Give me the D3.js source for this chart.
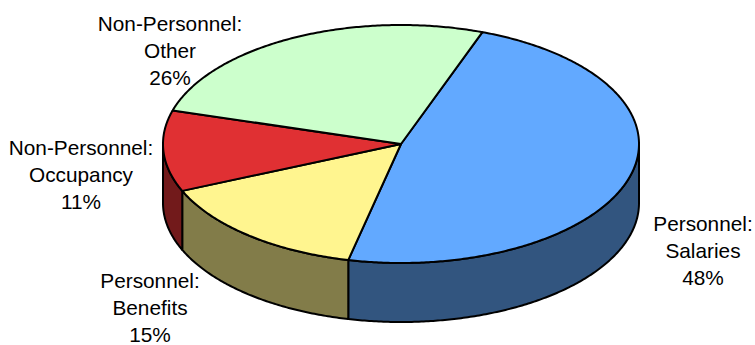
<!DOCTYPE html>
<html><head><meta charset="utf-8">
<script src="https://cdn.jsdelivr.net/npm/d3@7"></script>
<style>html,body{margin:0;padding:0;background:#fff}svg{display:block}text{font-family:"Liberation Sans",Arial,sans-serif;font-size:20.8px;fill:#000}</style>
</head><body><svg id="c" width="755" height="345"></svg>
<script>
const categories=["Personnel: Salaries","Personnel: Benefits","Non-Personnel: Occupancy","Non-Personnel: Other"];
const values=[48,15,11,26];
const topColors=["#62a9ff","#fff58f","#e03033","#ccffcc"];
const sideColors=["#32557f","#827c49","#721a1b","#667f66"];
const labelLines=[["Personnel:","Salaries","48%"],["Personnel:","Benefits","15%"],["Non-Personnel:","Occupancy","11%"],["Non-Personnel:","Other","26%"]];
const labelAnchors=[[703,231],[150,288],[81,155],[170,31]];

const svg=d3.select("#c");
const x=d3.scaleLinear().domain([-1,1]).range([163,639]);
const y=d3.scaleLinear().domain([-1,1]).range([25,263]);
const depth=59;
const rot=20*Math.PI/180;
const arcs=d3.pie().sort(null).startAngle(rot).endAngle(rot+2*Math.PI)(values);
const px=a=>x(Math.sin(a)), py=a=>y(-Math.cos(a));
const line=d3.line();
function samples(a0,a1){const n=Math.max(2,Math.ceil(Math.abs(a1-a0)/0.01));return d3.range(n+1).map(i=>a0+(a1-a0)*i/n);}

const g=svg.append("g").attr("stroke","#000").attr("stroke-width",2).attr("stroke-linejoin","round");
arcs.forEach((d,i)=>{
  const a0=Math.max(d.startAngle,Math.PI/2), a1=Math.min(d.endAngle,Math.PI*1.5);
  if(a1<=a0)return;
  const s=samples(a0,a1);
  const pts=s.map(a=>[px(a),py(a)]).concat(s.slice().reverse().map(a=>[px(a),py(a)+depth]));
  g.append("path").attr("d",line(pts)+"Z").attr("fill",sideColors[i]);
});
arcs.forEach((d,i)=>{
  const pts=[[x(0),y(0)]].concat(samples(d.startAngle,d.endAngle).map(a=>[px(a),py(a)]));
  g.append("path").attr("d",line(pts)+"Z").attr("fill",topColors[i]);
});
labelLines.forEach((ls,i)=>{
  const t=svg.append("text").attr("text-anchor","middle");
  ls.forEach((s,j)=>t.append("tspan").attr("x",labelAnchors[i][0]).attr("y",labelAnchors[i][1]+j*27).text(s));
});
</script></body></html>
